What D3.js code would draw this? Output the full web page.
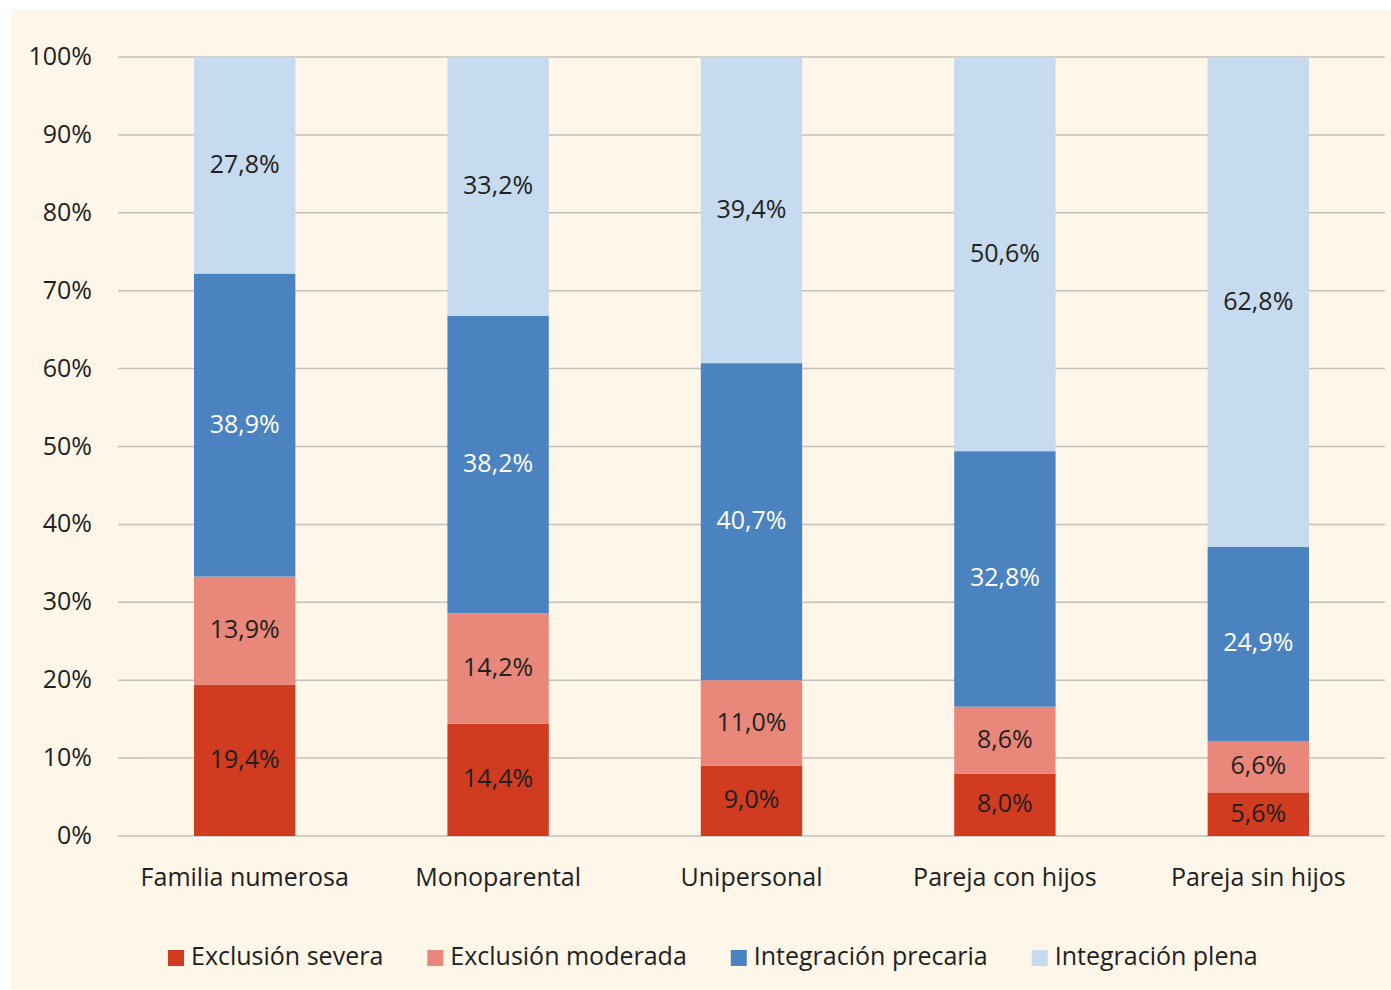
<!DOCTYPE html>
<html>
<head>
<meta charset="utf-8">
<script src="https://cdn.jsdelivr.net/npm/d3@7"></script>
<style>
  body { margin: 0; background: #ffffff; }
  svg { display: block; }
  text { font-family: "Open Sans", sans-serif; fill: #231f20; }
</style>
</head>
<body>
<svg id="chart" width="1391" height="990"></svg>
<script>
// categories and series (percent of households)
const categories = ["Familia numerosa", "Monoparental", "Unipersonal", "Pareja con hijos", "Pareja sin hijos"];
const seriesNames = ["Exclusión severa", "Exclusión moderada", "Integración precaria", "Integración plena"];
const exclusionSevera = [19.4, 14.4, 9.0, 8.0, 5.6];
const exclusionModerada = [13.9, 14.2, 11.0, 8.6, 6.6];
const integracionPrecaria = [38.9, 38.2, 40.7, 32.8, 24.9];
const integracionPlena = [27.8, 33.2, 39.4, 50.6, 62.8];
const yTicks = [0, 10, 20, 30, 40, 50, 60, 70, 80, 90, 100];

const COLORS = ["#d13b20", "#e9887a", "#4a83c0", "#c6dbef"];
const LABEL_COLORS = ["#231f20", "#231f20", "#ffffff", "#231f20"];

const svg = d3.select("#chart");

// cream panel behind the chart
svg.append("rect")
  .attr("x", 11).attr("y", 9)
  .attr("width", 1380).attr("height", 981)
  .attr("fill", "#fdf6e9");

const plotLeft = 118, plotRight = 1385, plotTop = 57, plotBottom = 836;

const x = d3.scaleBand()
  .domain(categories)
  .range([plotLeft, plotRight])
  .paddingInner(0.6)
  .paddingOuter(0.3);

const y = d3.scaleLinear()
  .domain([0, 100])
  .range([plotBottom, plotTop]);

// gridlines
svg.append("g")
  .selectAll("line")
  .data(yTicks)
  .join("line")
  .attr("x1", plotLeft).attr("x2", plotRight)
  .attr("y1", d => y(d)).attr("y2", d => y(d))
  .attr("stroke", "#c4c1bb")
  .attr("stroke-width", 1.5);

// y axis labels
const yAxis = d3.axisLeft(y)
  .tickValues(yTicks)
  .tickFormat(d => d + "%")
  .tickSize(0)
  .tickPadding(0);

svg.append("g")
  .attr("transform", `translate(92,0)`)
  .call(yAxis)
  .call(g => g.select(".domain").remove())
  .selectAll("text")
  .attr("dy", "0.3em")
  .attr("font-family", "Open Sans, sans-serif")
  .attr("font-size", 25)
  .attr("fill", "#231f20");

// stack the data
const rows = categories.map((c, i) => ({
  cat: c,
  s0: exclusionSevera[i],
  s1: exclusionModerada[i],
  s2: integracionPrecaria[i],
  s3: integracionPlena[i]
}));
const stack = d3.stack().keys(["s0", "s1", "s2", "s3"]);
const stacked = stack(rows);

const layers = svg.append("g")
  .selectAll("g")
  .data(stacked)
  .join("g")
  .attr("fill", (d, i) => COLORS[i]);

layers.selectAll("rect")
  .data(d => d)
  .join("rect")
  .attr("x", d => x(d.data.cat))
  .attr("width", x.bandwidth())
  .attr("y", d => y(Math.min(100, d[1])))
  .attr("height", d => y(d[0]) - y(Math.min(100, d[1])));

// value labels
stacked.forEach((layer, li) => {
  svg.append("g")
    .selectAll("text")
    .data(layer)
    .join("text")
    .attr("x", d => x(d.data.cat) + x.bandwidth() / 2)
    .attr("y", d => (y(d[0]) + y(Math.min(100, d[1]))) / 2)
    .attr("dy", "0.3em")
    .attr("text-anchor", "middle")
    .attr("font-size", 25)
    .style("fill", LABEL_COLORS[li])
    .text(d => (d[1] - d[0]).toFixed(1).replace(".", ",") + "%");
});

// category labels
const xAxis = d3.axisBottom(x).tickSize(0).tickPadding(0);
svg.append("g")
  .attr("transform", `translate(0,${plotBottom})`)
  .call(xAxis)
  .call(g => g.select(".domain").remove())
  .selectAll("text")
  .attr("y", 41)
  .attr("dy", "0.35em")
  .attr("font-family", "Open Sans, sans-serif")
  .attr("font-size", 25)
  .attr("fill", "#231f20");

// legend
const legend = svg.append("g").attr("transform", "translate(0,957)");
let lx = 168;
seriesNames.forEach((name, i) => {
  legend.append("rect")
    .attr("x", lx).attr("y", -7)
    .attr("width", 16).attr("height", 16)
    .attr("fill", COLORS[i]);
  const t = legend.append("text")
    .attr("x", lx + 23)
    .attr("y", 0)
    .attr("dy", "0.33em")
    .attr("font-size", 25)
    .text(name);
  lx += 23 + t.node().getComputedTextLength() + 44;
});
</script>
</body>
</html>
